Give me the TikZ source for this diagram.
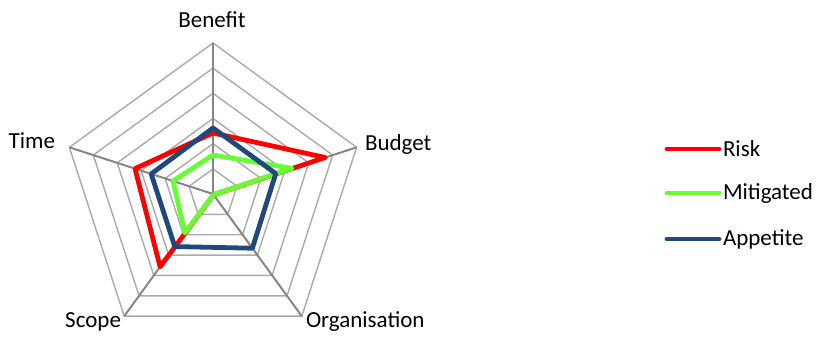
\documentclass[tikz,border=0pt]{standalone}
\usepackage{fontspec}
\setmainfont{Carlito}
\usetikzlibrary{calc}
\definecolor{ringc}{RGB}{170,170,170}
\definecolor{spokec}{RGB}{134,134,134}
\definecolor{riskc}{RGB}{255,0,0}
\definecolor{mitc}{RGB}{102,255,51}
\definecolor{appc}{RGB}{31,73,125}
\tikzset{
  ring/.style={draw=ringc, line width=1.4pt},
  spoke/.style={draw=spokec, line width=2pt},
  series/.style={line width=4.8pt, line join=round},
  lbl/.style={font=\fontsize{23}{27}\selectfont, inner sep=0pt, outer sep=0pt},
}
\begin{document}
\begin{tikzpicture}[x=1pt, y=1pt]
\useasboundingbox (0,0) rectangle (825,337);
\coordinate (C) at (213,143);
% rings
\foreach \k in {1,...,6}{
  \draw[ring] ($(C)+(90:\k*25.17)$) -- ($(C)+(18:\k*25.17)$) -- ($(C)+(-54:\k*25.17)$)
    -- ($(C)+(234:\k*25.17)$) -- ($(C)+(162:\k*25.17)$) -- cycle;
}
% axis ends
\coordinate (aBen) at ($(C)+(90:151)$);
\coordinate (aBud) at ($(C)+(18:151)$);
\coordinate (aOrg) at ($(C)+(-54:151)$);
\coordinate (aSco) at ($(C)+(234:151)$);
\coordinate (aTim) at ($(C)+(162:151)$);
\foreach \a in {aBen,aBud,aOrg,aSco,aTim}{ \draw[spoke] (C) -- (\a); }
% series points
\coordinate (r1) at ($(C)+(90:61)$);
\coordinate (r2) at ($(C)+(18:118)$);
\coordinate (r3) at ($(C)+(-54:1)$);
\coordinate (r4) at ($(C)+(234:90)$);
\coordinate (r5) at ($(C)+(162:82)$);
\coordinate (m1) at ($(C)+(90:39)$);
\coordinate (m2) at ($(C)+(18:83)$);
\coordinate (m3) at ($(C)+(-54:1)$);
\coordinate (m4) at ($(C)+(234:48)$);
\coordinate (m5) at ($(C)+(162:42)$);
\coordinate (p1) at ($(C)+(90:66)$);
\coordinate (p2) at ($(C)+(18:66)$);
\coordinate (p3) at ($(C)+(-54:67)$);
\coordinate (p4) at ($(C)+(234:65)$);
\coordinate (p5) at ($(C)+(162:65)$);
\draw[series, riskc] (r1) -- (r2) -- (r3) -- (r4) -- (r5) -- cycle;
\draw[series, mitc] (m1) -- (m2) -- (m3) -- (m4) -- (m5) -- cycle;
\draw[series, appc] (p1) -- (p2) -- (p3) -- (p4) -- (p5) -- cycle;
% axis labels
\node[lbl, anchor=base] (lBen) at (212,309) {Benefit};
\node[lbl, anchor=base west] (lBud) at (365,186) {Budget};
\node[lbl, anchor=base east] (lTim) at (55,188) {Time};
\node[lbl, anchor=base east] (lSco) at (121,9) {Scope};
\node[lbl, anchor=base west] (lOrg) at (306,9) {Organisation};
% legend
\coordinate (k1a) at (667,188); \coordinate (k1b) at (719,188);
\coordinate (k2a) at (667,144); \coordinate (k2b) at (719,144);
\coordinate (k3a) at (667,98);  \coordinate (k3b) at (719,98);
\draw[series, riskc, line cap=round] (k1a) -- (k1b);
\draw[series, mitc, line cap=round] (k2a) -- (k2b);
\draw[series, appc, line cap=round] (k3a) -- (k3b);
\node[lbl, anchor=west] (t1) at ($(k1b)+(4,0)$) {Risk};
\node[lbl, anchor=west] (t2) at ($(k2b)+(4,0)$) {Mitigated};
\node[lbl, anchor=west] (t3) at ($(k3b)+(4,0)$) {Appetite};
\end{tikzpicture}
\end{document}
